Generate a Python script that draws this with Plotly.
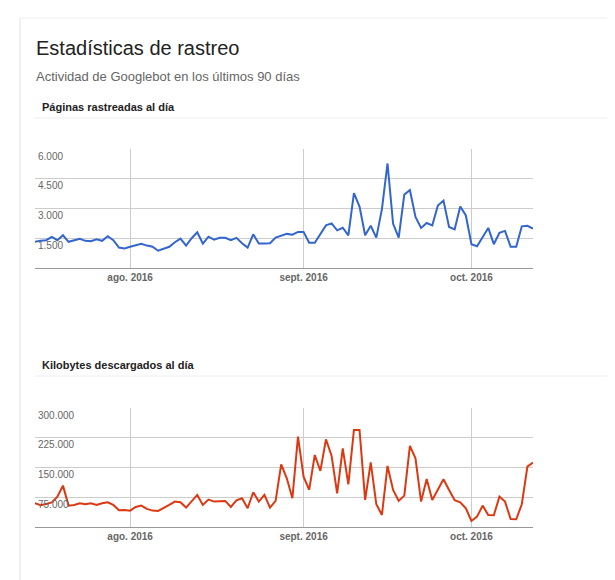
import pandas as pd
import plotly.graph_objects as go
from plotly.subplots import make_subplots

dates = pd.date_range("2016-07-15", periods=90, freq="D")

paginas = [1320, 1380, 1400, 1570, 1400, 1650, 1320, 1400, 1470, 1370,
           1350, 1450, 1370, 1600, 1400, 1030, 980, 1070, 1150, 1220,
           1130, 1070, 870, 970, 1070, 1300, 1480, 1130, 1500, 1800,
           1230, 1580, 1430, 1520, 1520, 1400, 1520, 1250, 1030, 1700,
           1230, 1230, 1250, 1530, 1630, 1720, 1680, 1820, 1820, 1270,
           1270, 1730, 2150, 2250, 1900, 2030, 1650, 3770, 3100, 1650,
           2130, 1530, 2970, 5270, 2230, 1530, 3700, 3930, 2570, 2020,
           2270, 2150, 3150, 3400, 2070, 1950, 3100, 2650, 1200, 1100,
           1530, 2020, 1200, 1780, 1870, 1070, 1070, 2100, 2130, 1980]

kilobytes = [60000, 55000, 58000, 62000, 76600, 104300, 53900, 55600, 59800, 57300,
             59800, 55600, 59800, 62300, 55600, 42200, 43000, 41300, 50600, 53900,
             45500, 41300, 40500, 47200, 55600, 64000, 62300, 48900, 65700, 80800,
             55600, 69000, 64000, 65700, 65700, 50600, 67400, 72400, 47200, 87500,
             64000, 80800, 48900, 65700, 158100, 122800, 72400, 227800, 127000, 93400,
             181600, 141300, 221100, 179900, 85000, 198400, 107700, 244600, 244600, 68200,
             163100, 57300, 30400, 153900, 93400, 65700, 79100, 204300, 173200, 64000,
             121100, 68200, 95900, 120300, 93400, 67400, 62300, 47200, 15300, 26200,
             53900, 30400, 29600, 76600, 64000, 20300, 19500, 57300, 152200, 162300]

month_ticks = ["2016-08-01", "2016-09-01", "2016-10-01"]
month_labels = ["<b>ago. 2016</b>", "<b>sept. 2016</b>", "<b>oct. 2016</b>"]
pag_ticks = [1500, 3000, 4500, 6000]
pag_labels = ["1.500", "3.000", "4.500", "6.000"]
kb_ticks = [75000, 150000, 225000, 300000]
kb_labels = ["75.000", "150.000", "225.000", "300.000"]

FONT = "Arial, Liberation Sans, sans-serif"
GRID = "#cccccc"
TICK = "#666666"
W, H, OFF = 615, 580, 8  # page body margin shifts the figure by 8px


def px(x):
    return (x - OFF) / W


def py(y):
    return 1 - (y - OFF) / H


fig = make_subplots(rows=2, cols=1)
fig.add_trace(go.Scatter(x=dates, y=paginas, mode="lines",
                         line=dict(color="#3366cc", width=2), hoverinfo="x+y"), row=1, col=1)
fig.add_trace(go.Scatter(x=dates, y=kilobytes, mode="lines",
                         line=dict(color="#dc3912", width=2), hoverinfo="x+y"), row=2, col=1)

xkw = dict(tickvals=month_ticks, ticktext=month_labels, showgrid=True, gridcolor=GRID,
           range=[dates[0], dates[-1]], showline=True, linecolor="#999999",
           ticks="", tickfont=dict(size=10, color=TICK, family=FONT), zeroline=False)
fig.update_xaxes(domain=[px(35), px(533)], **xkw)
ykw = dict(showgrid=True, gridcolor=GRID, ticklabelposition="inside bottom", ticks="",
           tickfont=dict(size=10, color=TICK, family=FONT), zeroline=False, showline=False)
fig.update_yaxes(range=[0, 6000], tickvals=pag_ticks, ticktext=pag_labels,
                 domain=[py(268), py(149)], row=1, col=1, **ykw)
fig.update_yaxes(range=[0, 300000], tickvals=kb_ticks, ticktext=kb_labels,
                 domain=[py(527), py(408)], row=2, col=1, **ykw)

ann = [
    dict(text="Estadísticas de rastreo", x=34, y=48, font=dict(size=20, color="#222222")),
    dict(text="Actividad de Googlebot en los últimos 90 días", x=34, y=77,
         font=dict(size=13, color="#666666")),
    dict(text="<b>Páginas rastreadas al día</b>", x=40, y=107, font=dict(size=11, color="#222222")),
    dict(text="<b>Kilobytes descargados al día</b>", x=40, y=365, font=dict(size=11, color="#222222")),
]
annotations = []
for a in ann:
    annotations.append(dict(text=a["text"], x=px(a["x"]), y=py(a["y"]),
                            xref="paper", yref="paper", xanchor="left", yanchor="middle",
                            showarrow=False, font=dict(family=FONT, **a["font"])))

shapes = [
    dict(type="line", xref="paper", yref="paper", x0=px(20), x1=px(20), y0=0, y1=py(18),
         line=dict(color="#e5e5e5", width=1)),
    dict(type="line", xref="paper", yref="paper", x0=px(20), x1=1, y0=py(18), y1=py(18),
         line=dict(color="#eeeeee", width=1)),
    dict(type="line", xref="paper", yref="paper", x0=px(34), x1=1, y0=py(118), y1=py(118),
         line=dict(color="#eeeeee", width=1)),
    dict(type="line", xref="paper", yref="paper", x0=px(34), x1=1, y0=py(376), y1=py(376),
         line=dict(color="#eeeeee", width=1)),
]

fig.update_layout(width=W, height=H, margin=dict(l=0, r=0, t=0, b=0),
                  paper_bgcolor="white", plot_bgcolor="white", showlegend=False,
                  font=dict(family=FONT), annotations=annotations, shapes=shapes)

fig.write_html("out.html")
